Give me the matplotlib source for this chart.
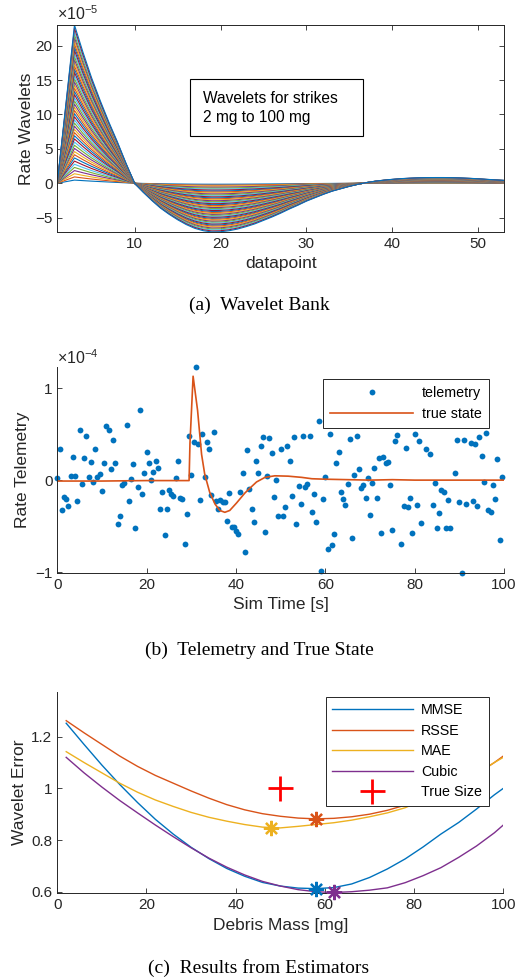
import numpy as np
import matplotlib
matplotlib.use('Agg')
import matplotlib.pyplot as plt
from matplotlib.patches import Rectangle

# colores por defecto de matlab
mcol = ['#0072BD', '#D95319', '#EDB120', '#7E2F8E', '#77AC30', '#4DBEEE', '#A2142F']
gris = '#262626'

plt.rcParams['font.family'] = ['Liberation Sans', 'DejaVu Sans']
plt.rcParams['mathtext.fontset'] = 'custom'
plt.rcParams['mathtext.rm'] = 'Liberation Sans'
plt.rcParams['xtick.direction'] = 'in'
plt.rcParams['ytick.direction'] = 'in'
plt.rcParams['axes.edgecolor'] = gris
plt.rcParams['xtick.color'] = gris
plt.rcParams['ytick.color'] = gris
plt.rcParams['axes.labelcolor'] = gris
plt.rcParams['axes.linewidth'] = 0.7

# ---- (a) banco de wavelets ----
masas = np.arange(2, 101, 2)          # mg
datapoint = np.arange(1, 54)
# wavelet de 100 mg (x 1e-5)
w100 = [0.0, 11.5, 23.0, 19.0, 15.3, 12.0, 8.9, 6.0, 2.9, 0.0,
        -1.3, -2.5, -3.6, -4.5, -5.3, -6.0, -6.55, -6.9, -7.08, -7.05,
        -6.9, -6.65, -6.3, -5.9, -5.4, -4.9, -4.35, -3.75, -3.2, -2.6,
        -2.1, -1.6, -1.15, -0.8, -0.45, -0.15, 0.1, 0.3, 0.45, 0.57,
        0.67, 0.74, 0.79, 0.82, 0.83, 0.83, 0.81, 0.77, 0.72, 0.65,
        0.57, 0.49, 0.42]

# ---- (b) telemetria ----
t_tel = np.arange(200) * 0.5
tel = [0.02, 0.34, -0.32, -0.18, -0.21, -0.28, 0.04, 0.25, 0.04, -0.23,
       0.55, -0.04, 0.24, 0.48, 0.03, 0.20, -0.02, 0.34, 0.03, 0.07,
       -0.12, 0.19, 0.59, 0.54, 0.12, 0.44, 0.19, -0.48, -0.39, -0.05,
       -0.03, 0.60, -0.23, 0.01, 0.17, -0.52, -0.08, 0.76, -0.15, 0.08,
       0.31, 0.19, 0.00, 0.09, 0.21, 0.13, -0.31, -0.13, -0.60, -0.31,
       -0.11, -0.15, -0.17, 0.02,
       0.21, -0.19, -0.21, -0.70, -0.37, 0.48, 0.06, 0.41, 1.23, 0.39,
       -0.22, 0.50, 0.03, 0.41, 0.34, -0.16, 0.52, -0.23, -0.31,
       -0.22, -0.24, -0.24, -0.44, -0.14, -0.51, -0.51, -0.55, -0.59, -0.13,
       0.08, -0.78, 0.33, -0.10, -0.31, -0.46, 0.21, 0.08, 0.37, 0.47,
       -0.56, 0.04, 0.46, 0.30, -0.18, 0.00, -0.39, 0.34, -0.39, -0.29,
       0.37, 0.21, -0.17, 0.47, -0.48, -0.06, -0.26, 0.48, -0.07, -0.04,
       0.48, -0.35,
       -0.15, -0.46, 0.64, -0.99, -0.20, 0.03, -0.75, 0.50, -0.71, -0.59,
       0.19, 0.31, -0.13, -0.20, -0.27, -0.04, 0.45, -0.63, 0.06, 0.48,
       0.12, -0.09, -0.05, -0.19, 0.02, -0.38, -0.03, 0.13, -0.19, 0.24,
       -0.58, 0.25, 0.19, 0.20,
       -0.05, -0.54, 0.42, 0.49, 0.62, -0.69, -0.28, 0.35, -0.29, -0.19,
       -0.58, 0.50, -0.27, 0.43, -0.47, 0.66, 0.34, 0.60, 0.28, -0.27,
       -0.03, -0.52, -0.36, -0.11, -0.13, -0.52, -0.22, -0.52, 0.70, 0.08,
       0.44, -0.24, -1.01, 0.44, -0.26, 0.64, 0.40, -0.23, 0.39, -0.28,
       0.47, 0.26, -0.015, 0.51, -0.32, -0.35, -0.05, -0.21, 0.23, -0.65,
       0.03]
t_true = [0, 10, 20, 29.5, 29.7, 30.4, 31.4, 32.3, 33.0, 34.1, 35.3, 36.4,
          37.5, 38.6, 40.1, 42.0, 43.5, 44.6, 46.5, 48.7, 51.7, 54.7, 57,
          60, 65, 70, 75, 80, 90, 100]
v_true = [-0.01, -0.01, -0.005, -0.005, 0.40, 1.13, 0.76, 0.28, 0.065, -0.13,
          -0.26, -0.33, -0.35, -0.33, -0.25, -0.14, -0.07, -0.02, 0.03, 0.047,
          0.043, 0.03, 0.015, 0.01, 0.005, 0.0, 0.005, 0.0, 0.0, 0.0]

# ---- (c) estimadores ----
m_est = [2, 6, 10, 14, 18, 22, 26, 30, 34, 38, 42, 46, 50, 54, 58, 62, 66,
         70, 74, 78, 82, 86, 90, 94, 98, 100]
mmse = [1.252, 1.17, 1.09, 1.015, 0.945, 0.88, 0.823, 0.772, 0.728, 0.69,
        0.66, 0.636, 0.622, 0.614, 0.612, 0.616, 0.63, 0.655, 0.688, 0.727,
        0.773, 0.823, 0.868, 0.92, 0.975, 1.0]
rsse = [1.262, 1.215, 1.17, 1.125, 1.085, 1.05, 1.02, 0.99, 0.962, 0.937,
        0.917, 0.902, 0.892, 0.885, 0.882, 0.884, 0.89, 0.9, 0.915, 0.935,
        0.96, 0.99, 1.02, 1.055, 1.1, 1.125]
mae = [1.142, 1.1, 1.06, 1.02, 0.985, 0.955, 0.93, 0.907, 0.888, 0.873,
       0.86, 0.85, 0.847, 0.853, 0.86, 0.867, 0.877, 0.89, 0.905, 0.925,
       0.955, 0.985, 1.02, 1.055, 1.1, 1.12]
cubic = [1.12, 1.06, 1.005, 0.953, 0.905, 0.858, 0.813, 0.77, 0.73, 0.695,
         0.665, 0.64, 0.622, 0.608, 0.6, 0.597, 0.6, 0.606, 0.615, 0.635,
         0.662, 0.693, 0.733, 0.777, 0.828, 0.858]
min_m = [58, 58, 48, 62]
min_v = [0.612, 0.882, 0.845, 0.598]
true_m, true_v = 50, 1.0
nombres = ['MMSE', 'RSSE', 'MAE', 'Cubic']

fig = plt.figure(figsize=(5.18, 9.80), dpi=100)

#Graficando (a):
ax1 = fig.add_axes([0.1106, 0.7633, 0.8624, 0.2112])
w100 = np.array(w100)
for i, m in enumerate(masas):
	ax1.plot(datapoint, w100 * m / 100., color=mcol[i % 7], lw=0.8)
ax1.set_xlim(1, 53)
ax1.set_ylim(w100.min(), w100.max())
ax1.set_xticks([10, 20, 30, 40, 50])
ax1.set_yticks([-5, 0, 5, 10, 15, 20])
ax1.tick_params(top=True, right=True, labelsize=11, length=3.5, width=0.6)
ax1.set_xlabel('datapoint', fontsize=12.5)
ax1.set_ylabel('Rate Wavelets', fontsize=12.5, labelpad=1)
ax1.text(0, 1.01, r'$\times10^{-5}$', transform=ax1.transAxes, fontsize=11.5,
	color=gris, va='bottom', ha='left')
ax1.add_patch(Rectangle((0.297, 0.464), 0.387, 0.275, transform=ax1.transAxes,
	fill=True, fc='white', ec='black', lw=0.8, zorder=5))
ax1.text(0.326, 0.600, 'Wavelets for strikes\n2 mg to 100 mg', transform=ax1.transAxes,
	fontsize=11.2, va='center', ha='left', linespacing=1.35, zorder=6)

#Graficando (b):
ax2 = fig.add_axes([0.1106, 0.4153, 0.8624, 0.2102])
tel = np.array(tel)
ax2.plot(t_tel, tel, 'o', ms=4.2, color=mcol[0], mec='none', label='telemetry', clip_on=False)
ax2.plot(t_true, v_true, color=mcol[1], lw=1.2, label='true state')
ax2.set_xlim(0, 100)
ax2.set_ylim(tel.min(), tel.max())
ax2.set_xticks([0, 20, 40, 60, 80, 100])
ax2.set_yticks([-1, 0, 1])
ax2.spines['top'].set_visible(False)
ax2.spines['right'].set_visible(False)
ax2.tick_params(labelsize=11, length=3.5, width=0.6)
ax2.set_xlabel('Sim Time [s]', fontsize=12.5)
ax2.set_ylabel('Rate Telemetry', fontsize=12.5, labelpad=3.5)
ax2.text(0, 1.0, r'$\times10^{-4}$', transform=ax2.transAxes, fontsize=11.5,
	color=gris, va='bottom', ha='left')
leg = ax2.legend(loc='upper right', bbox_to_anchor=(0.966, 0.942), fontsize=10.3,
	handlelength=5.8, handletextpad=0.6, numpoints=1, fancybox=False, framealpha=1,
	edgecolor=gris, borderaxespad=0, labelspacing=0.45, borderpad=0.5)
leg.get_frame().set_linewidth(0.7)
leg.set_zorder(10)

#Graficando (c):
ax3 = fig.add_axes([0.1106, 0.0885, 0.861, 0.2054])
for i, curva in enumerate([mmse, rsse, mae, cubic]):
	ax3.plot(m_est, curva, color=mcol[i], lw=1.0, label=nombres[i])
for i in range(4):
	ax3.plot(min_m[i], min_v[i], marker=(8, 2, 0), ms=11, mew=1.6, color=mcol[i],
		ls='none', zorder=4, clip_on=False)
ax3.plot(true_m, true_v, '+', ms=18, mew=2, color='red', ls='none', label='True Size')
ax3.set_xlim(0, 100)
ax3.set_ylim(0.594, 1.373)
ax3.set_xticks([0, 20, 40, 60, 80, 100])
ax3.set_yticks([0.6, 0.8, 1.0, 1.2])
ax3.set_yticklabels(['0.6', '0.8', '1', '1.2'])
ax3.spines['top'].set_visible(False)
ax3.spines['right'].set_visible(False)
ax3.tick_params(labelsize=11, length=3.5, width=0.6)
ax3.set_xlabel('Debris Mass [mg]', fontsize=12.5)
ax3.set_ylabel('Wavelet Error', fontsize=12.5, labelpad=3)
leg = ax3.legend(loc='upper right', bbox_to_anchor=(0.967, 0.975), fontsize=10.3,
	handlelength=5.6, handletextpad=0.6, numpoints=1, fancybox=False, framealpha=1,
	edgecolor=gris, borderaxespad=0, labelspacing=0.45, borderpad=0.45)
leg.get_frame().set_linewidth(0.7)
leg.set_zorder(10)

# titulos de los paneles
fig.text(0.5, 0.6888, '(a)  Wavelet Bank', ha='center', va='center',
	family='Liberation Serif', fontsize=14)
fig.text(0.5, 0.3367, '(b)  Telemetry and True State', ha='center', va='center',
	family='Liberation Serif', fontsize=14)
fig.text(0.5, 0.0122, '(c)  Results from Estimators', ha='center', va='center',
	family='Liberation Serif', fontsize=14)

fig.savefig('out.png', dpi=100)
